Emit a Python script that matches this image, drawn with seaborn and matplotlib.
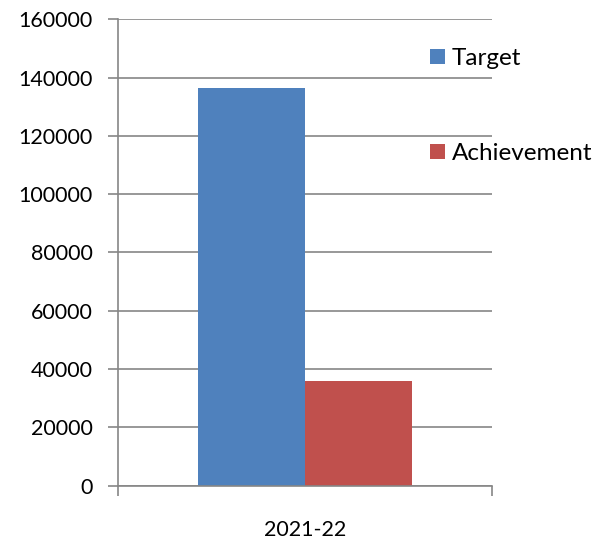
import seaborn as sns
import matplotlib.pyplot as plt
import pandas as pd

# data
years = ["2021-22"]
series = ["Target", "Achievement"]
target = [136300]
achievement = [35800]

df = pd.DataFrame({
    "year": years * 2,
    "series": series[0:1] * len(years) + series[1:2] * len(years),
    "value": target + achievement,
})

sns.set_style("white")
plt.rcParams["font.family"] = ["Lato", "DejaVu Sans"]
plt.rcParams["text.color"] = "black"

colors = {"Target": "#4f81bd", "Achievement": "#c0504d"}
grey = "#868686"

fig = plt.figure(figsize=(6.09, 5.40), dpi=100)
ax = fig.add_axes([0.1938, 0.1009, 0.6141, 0.8634])

sns.barplot(data=df, x="year", y="value", hue="series", palette=colors,
            width=0.571, saturation=1, linewidth=0, ax=ax)

ax.set_xlim(-0.5, 0.5)
ax.set_ylim(0, 160000)
ax.set_yticks(range(0, 160001, 20000))
ax.yaxis.grid(True, color=grey, linewidth=1.2)
ax.set_axisbelow(True)
ax.set_xlabel("")
ax.set_ylabel("")

for side in ["top", "right"]:
    ax.spines[side].set_visible(False)
for side in ["left", "bottom"]:
    ax.spines[side].set_color(grey)
    ax.spines[side].set_linewidth(1.2)

ax.tick_params(axis="y", length=7, width=1.2, color=grey, labelsize=15.5,
               labelcolor="black", pad=11, left=True)
ax.tick_params(axis="x", which="major", length=0, labelsize=15.5,
               labelcolor="black", pad=25)
ax.set_xticks([-0.5, 0.5], minor=True)
ax.tick_params(axis="x", which="minor", length=7, width=1.2, color=grey, bottom=True)

handles, labels = ax.get_legend_handles_labels()
ax.get_legend().remove()
fig.legend(handles, labels, loc="upper left", bbox_to_anchor=(430 / 609, 1 - 48 / 540),
           frameon=False, fontsize=17.5, handlelength=0.6, handleheight=0.6,
           handletextpad=0.3, labelspacing=3.05, borderaxespad=0, borderpad=0)

fig.patch.set_facecolor("white")
fig.savefig("out.png", dpi=100)
